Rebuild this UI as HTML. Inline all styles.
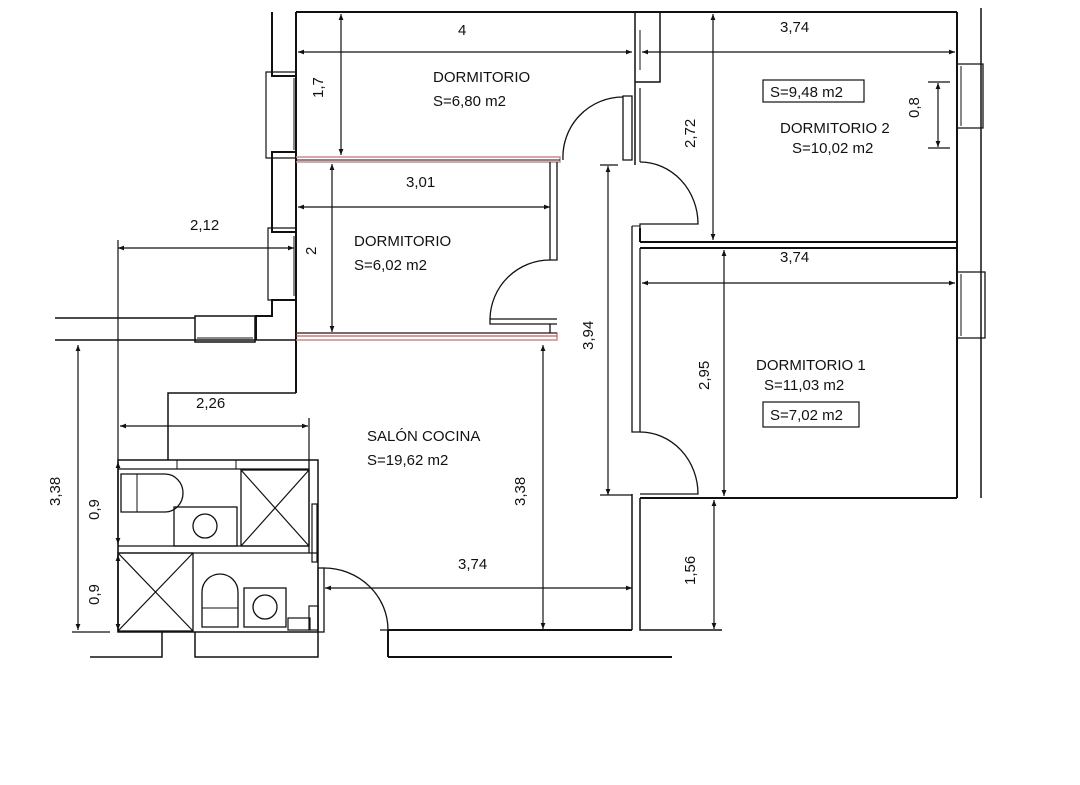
<!DOCTYPE html>
<html><head><meta charset="utf-8"><style>
html,body{margin:0;padding:0;background:#fff;}
svg{display:block}
text{font-family:"Liberation Sans",sans-serif;fill:#111;}
</style></head><body>
<svg width="1080" height="785" viewBox="0 0 1080 785" xmlns="http://www.w3.org/2000/svg">
<defs>
<marker id="a" viewBox="0 0 10 10" refX="10" refY="5" markerWidth="9" markerHeight="6" orient="auto-start-reverse" markerUnits="userSpaceOnUse"><path d="M0,1 L10,5 L0,9 z" fill="#111"/></marker>
</defs>
<rect width="1080" height="785" fill="#fff"/>
<g stroke="#111" stroke-width="2" fill="none">
<line x1="296" y1="12" x2="957" y2="12"/>
<line x1="957" y1="12" x2="957" y2="498"/>
<line x1="981" y1="8" x2="981" y2="498" stroke-width="1.5"/>
<path d="M957,64 H983 V128 H957" stroke-width="1.3"/>
<line x1="961" y1="66" x2="961" y2="126" stroke-width="1"/>
<path d="M957,272 H985 V338 H957" stroke-width="1.3"/>
<line x1="961" y1="274" x2="961" y2="336" stroke-width="1"/>
<path d="M272,12 V76 H296"/>
<path d="M296,72 H266 V158 H296" stroke-width="1.2"/>
<line x1="294" y1="78" x2="294" y2="150" stroke-width="1"/>
<rect x="272" y="152" width="24" height="80"/>
<path d="M296,228 H268 V300 H296" stroke-width="1.2"/>
<line x1="294" y1="236" x2="294" y2="296" stroke-width="1"/>
<path d="M296,300 H272 V316 H256 V340"/>
<line x1="296" y1="12" x2="296" y2="393"/>
<path d="M296,393 H168 V460" stroke-width="1.5"/>
<line x1="55" y1="318" x2="195" y2="318" stroke-width="1.5"/>
<line x1="55" y1="340" x2="296" y2="340" stroke-width="1.5"/>
<rect x="195" y="316" width="60" height="26" stroke-width="1.5"/>
<line x1="197" y1="338" x2="253" y2="338" stroke-width="1"/>
<path d="M296,157 H560 V162 H296" stroke="#c88" stroke-width="1.5"/>
<line x1="296" y1="160" x2="560" y2="160" stroke="#b33" stroke-width="1"/>
<path d="M296,333 H557 V340 H296" stroke="#c88" stroke-width="1.5"/>
<line x1="296" y1="336" x2="557" y2="336" stroke="#b33" stroke-width="1"/>
<line x1="296" y1="160" x2="560" y2="160" stroke="#111" stroke-width="1"/>
<line x1="296" y1="333" x2="557" y2="333" stroke="#111" stroke-width="1"/>
<path d="M550,162 V260 H557 V162" stroke-width="1.3"/>
<path d="M557,319 H490 V324 H557 M550,324 V333" stroke-width="1.3"/>
<path d="M490,319 A60,60 0 0 1 550,260" stroke-width="1.3"/>
<path d="M623,96 H632 V160 H623 Z" stroke-width="1.3"/>
<path d="M563,160 A60,60 0 0 1 623,97" stroke-width="1.3"/>
<path d="M635,12 V165 M660,12 V82 H635" stroke-width="1.5"/>
<line x1="640" y1="30" x2="640" y2="70" stroke-width="1"/>
<path d="M640,88 V162" stroke-width="1.2"/>
<path d="M640,162 A58,62 0 0 1 698,224 H640 V242" stroke-width="1.3"/>
<line x1="640" y1="228" x2="640" y2="242"/>
<line x1="632" y1="226" x2="640" y2="226" stroke-width="1"/>
<line x1="640" y1="242" x2="957" y2="242"/>
<line x1="640" y1="248" x2="957" y2="248"/>
<path d="M632,226 V432 H640 V248" stroke-width="1.3"/>
<path d="M640,432 A58,62 0 0 1 698,494 H640" stroke-width="1.3"/>
<line x1="640" y1="498" x2="957" y2="498"/>
<path d="M632,494 V630 M640,498 V630 H722" stroke-width="1.5"/>
<line x1="388" y1="630" x2="632" y2="630"/>
<line x1="388" y1="630" x2="388" y2="657"/>
<line x1="388" y1="657" x2="672" y2="657"/>
<path d="M324,568 A64,62 0 0 1 388,630 H380" stroke-width="1.3"/>
<rect x="318" y="568" width="6" height="64" stroke-width="1.3"/>
<rect x="118" y="460" width="200" height="172" stroke-width="1.5"/>
<line x1="118" y1="469" x2="309" y2="469" stroke-width="1.3"/>
<line x1="177" y1="460" x2="177" y2="469" stroke-width="1"/>
<line x1="236" y1="460" x2="236" y2="469" stroke-width="1"/>
<line x1="309" y1="460" x2="309" y2="553" stroke-width="1.3"/>
<line x1="118" y1="546" x2="309" y2="546" stroke-width="1.3"/>
<line x1="118" y1="553" x2="318" y2="553" stroke-width="1.3"/>
<rect x="312" y="504" width="5" height="58" stroke-width="1.2"/>
<path d="M121,474 H165 A18,19 0 0 1 165,512 H121 Z" stroke-width="1.3"/>
<line x1="137" y1="474" x2="137" y2="512" stroke-width="1"/>
<rect x="174" y="507" width="63" height="39" stroke-width="1.3"/>
<circle cx="205" cy="526" r="12" stroke-width="1.3"/>
<rect x="241" y="470" width="68" height="76" stroke-width="1.3"/>
<path d="M241,470 L309,546 M309,470 L241,546" stroke-width="1.2"/>
<rect x="118" y="553" width="75" height="78" stroke-width="1.3"/>
<path d="M118,553 L193,631 M193,553 L118,631" stroke-width="1.2"/>
<path d="M202,627 V592 A18,18 0 0 1 238,592 V627 Z" stroke-width="1.3"/>
<line x1="202" y1="608" x2="238" y2="608" stroke-width="1"/>
<rect x="244" y="588" width="42" height="39" stroke-width="1.3"/>
<circle cx="265" cy="607" r="12" stroke-width="1.3"/>
<rect x="288" y="618" width="22" height="12" stroke-width="1.2"/>
<rect x="309" y="606" width="9" height="24" stroke-width="1.2"/>
<path d="M162,632 V657 H90" stroke-width="1.5"/>
<path d="M195,632 V657 H318 V632" stroke-width="1.5"/>
<line x1="162" y1="632" x2="195" y2="632" stroke-width="1"/>
</g>
<g stroke="#111" stroke-width="1.2" fill="none">
<line x1="298" y1="52" x2="632" y2="52" marker-start="url(#a)" marker-end="url(#a)"/>
<line x1="341" y1="14" x2="341" y2="155" marker-start="url(#a)" marker-end="url(#a)"/>
<line x1="642" y1="52" x2="955" y2="52" marker-start="url(#a)" marker-end="url(#a)"/>
<line x1="713" y1="14" x2="713" y2="240" marker-start="url(#a)" marker-end="url(#a)"/>
<line x1="938" y1="83" x2="938" y2="147" marker-start="url(#a)" marker-end="url(#a)"/>
<line x1="928" y1="82" x2="950" y2="82"/><line x1="928" y1="148" x2="950" y2="148"/>
<line x1="642" y1="283" x2="955" y2="283" marker-start="url(#a)" marker-end="url(#a)"/>
<line x1="724" y1="250" x2="724" y2="496" marker-start="url(#a)" marker-end="url(#a)"/>
<line x1="714" y1="500" x2="714" y2="629" marker-start="url(#a)" marker-end="url(#a)"/>
<line x1="608" y1="166" x2="608" y2="495" marker-start="url(#a)" marker-end="url(#a)"/>
<line x1="600" y1="165" x2="618" y2="165"/><line x1="600" y1="495" x2="632" y2="495"/>
<line x1="543" y1="345" x2="543" y2="629" marker-start="url(#a)" marker-end="url(#a)"/>
<line x1="325" y1="588" x2="632" y2="588" marker-start="url(#a)" marker-end="url(#a)"/>
<line x1="298" y1="207" x2="550" y2="207" marker-start="url(#a)" marker-end="url(#a)"/>
<line x1="332" y1="164" x2="332" y2="332" marker-start="url(#a)" marker-end="url(#a)"/>
<line x1="118" y1="248" x2="294" y2="248" marker-start="url(#a)" marker-end="url(#a)"/>
<line x1="118" y1="240" x2="118" y2="632"/>
<line x1="120" y1="426" x2="308" y2="426" marker-start="url(#a)" marker-end="url(#a)"/>
<line x1="309" y1="418" x2="309" y2="460"/>
<line x1="78" y1="345" x2="78" y2="630" marker-start="url(#a)" marker-end="url(#a)"/>
<line x1="72" y1="632" x2="110" y2="632"/>
<line x1="118" y1="462" x2="118" y2="544" marker-start="url(#a)" marker-end="url(#a)"/>
<line x1="118" y1="555" x2="118" y2="630" marker-start="url(#a)" marker-end="url(#a)"/>
<rect x="763" y="80" width="101" height="22"/>
<rect x="763" y="402" width="96" height="25"/>
</g>
<g font-size="15">
<text x="458" y="35">4</text>
<text x="780" y="32">3,74</text>
<text x="780" y="262">3,74</text>
<text x="406" y="187">3,01</text>
<text x="190" y="230">2,12</text>
<text x="196" y="408">2,26</text>
<text x="458" y="569">3,74</text>
<text x="433" y="82">DORMITORIO</text>
<text x="433" y="106">S=6,80 m2</text>
<text x="354" y="246">DORMITORIO</text>
<text x="354" y="270">S=6,02 m2</text>
<text x="367" y="441">SALÓN COCINA</text>
<text x="367" y="465">S=19,62 m2</text>
<text x="780" y="133">DORMITORIO 2</text>
<text x="792" y="153">S=10,02 m2</text>
<text x="770" y="97">S=9,48 m2</text>
<text x="756" y="370">DORMITORIO 1</text>
<text x="764" y="390">S=11,03 m2</text>
<text x="770" y="420">S=7,02 m2</text>
<text transform="translate(323,98) rotate(-90)">1,7</text>
<text transform="translate(695,148) rotate(-90)">2,72</text>
<text transform="translate(919,118) rotate(-90)">0,8</text>
<text transform="translate(709,390) rotate(-90)">2,95</text>
<text transform="translate(695,585) rotate(-90)">1,56</text>
<text transform="translate(593,350) rotate(-90)">3,94</text>
<text transform="translate(525,506) rotate(-90)">3,38</text>
<text transform="translate(316,255) rotate(-90)">2</text>
<text transform="translate(60,506) rotate(-90)">3,38</text>
<text transform="translate(99,520) rotate(-90)">0,9</text>
<text transform="translate(99,605) rotate(-90)">0,9</text>
</g>
</svg>
</body></html>
